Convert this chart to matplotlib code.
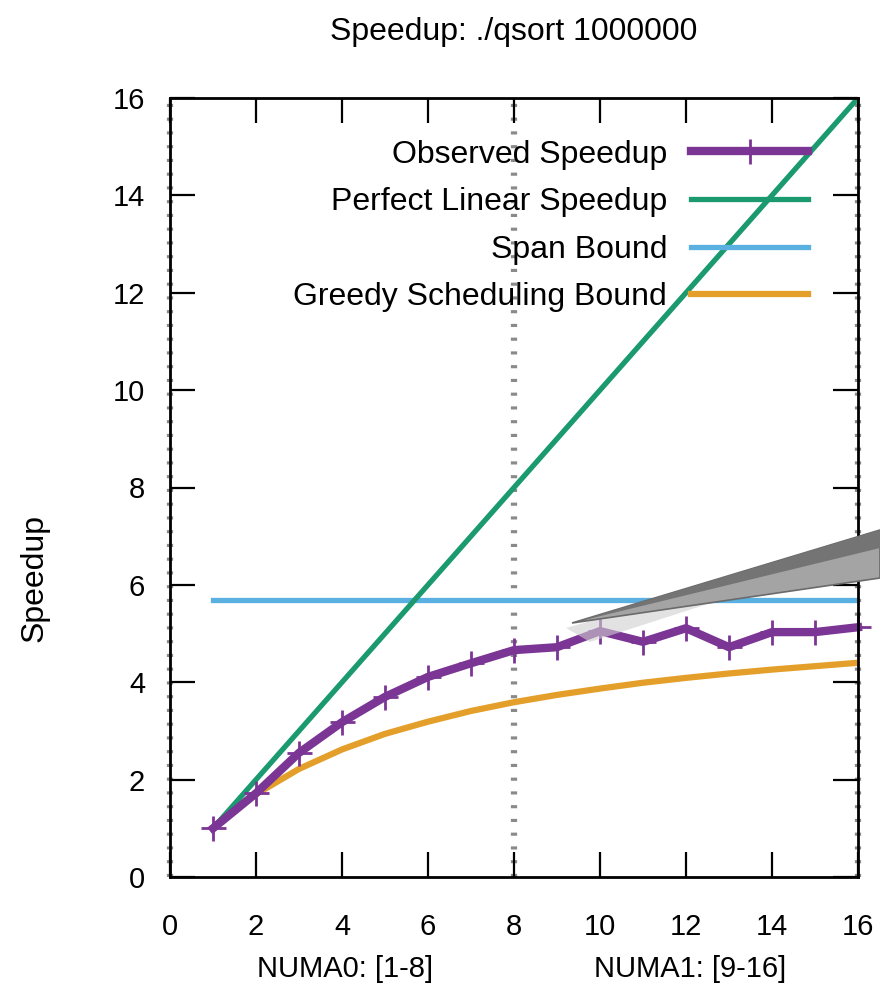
import matplotlib
matplotlib.use('Agg')
import matplotlib.pyplot as plt
from matplotlib.patches import Polygon

plt.rcParams['font.family'] = ['Liberation Sans', 'DejaVu Sans']

# данные
cores = [1, 2, 3, 4, 5, 6, 7, 8, 9, 10, 11, 12, 13, 14, 15, 16]
observed = [1.0, 1.72, 2.55, 3.18, 3.70, 4.11, 4.39, 4.66,
            4.72, 5.05, 4.83, 5.11, 4.72, 5.03, 5.03, 5.13]
linear = [1, 2, 3, 4, 5, 6, 7, 8, 9, 10, 11, 12, 13, 14, 15, 16]
span = [5.69] * 16
greedy = [1.0, 1.70, 2.22, 2.62, 2.94, 3.19, 3.41, 3.59,
          3.74, 3.87, 3.99, 4.09, 4.18, 4.26, 4.33, 4.40]
numa_bounds = [0, 8, 16]
ticks = [0, 2, 4, 6, 8, 10, 12, 14, 16]

W, H = 880, 999
fig = plt.figure(figsize=(8.8, 9.99), dpi=100)
ax = fig.add_axes([170 / W, 1 - 877 / H, 688 / W, 779 / H])

# пунктирные линии границ NUMA
for xb in numa_bounds:
    ax.plot([xb, xb], [0, 16], color='#8a8a8a', lw=4.5, dashes=(0.5, 1.7),
            solid_capstyle='butt', dash_capstyle='butt', zorder=1, clip_on=False)

ax.plot(cores, observed, color='#7b3595', lw=6, marker='+', ms=18, mew=2,
        label='Observed Speedup', zorder=5, clip_on=False)
ax.plot(cores, linear, color='#1a9a6e', lw=3.8, label='Perfect Linear Speedup', zorder=4)
ax.plot(cores, span, color='#5ab0e0', lw=3.8, label='Span Bound', zorder=3)
ax.plot(cores, greedy, color='#e49f2a', lw=4.5, label='Greedy Scheduling Bound', zorder=4)

ax.set_xlim(0, 16)
ax.set_ylim(0, 16)
ax.set_xticks(ticks)
ax.set_yticks(ticks)
ax.tick_params(direction='in', length=18, width=1.6, top=True, right=True,
               labelsize=21, pad=18, colors='black')
ax.tick_params(axis='x', pad=26)
for sp in ax.spines.values():
    sp.set_linewidth(2)
    sp.set_zorder(6)

ax.legend(loc='upper right', bbox_to_anchor=(0.946, 0.963), frameon=False,
          markerfirst=False, fontsize=23, handlelength=3.66, handletextpad=0.75,
          labelspacing=0.55, borderaxespad=0)

fig.text(514 / W, 1 - 32 / H, 'Speedup: ./qsort 1000000', ha='center', va='center', fontsize=23)
fig.text(35 / W, 1 - 578 / H, 'Speedup', rotation=90, ha='center', va='center', fontsize=23)
fig.text(345 / W, 1 - 969 / H, 'NUMA0: [1-8]', ha='center', va='center', fontsize=21)
fig.text(690 / W, 1 - 969 / H, 'NUMA1: [9-16]', ha='center', va='center', fontsize=21)

# серая стрелка-указатель поверх графика
def px(pts):
    return [(x / W, 1 - y / H) for x, y in pts]

shadow = Polygon(px([(566, 628), (700, 590), (720, 600), (590, 642)]),
                 closed=True, transform=fig.transFigure, facecolor='#cfcfcf',
                 edgecolor='none', alpha=0.6, zorder=9)
wedge = Polygon(px([(572, 623), (880, 530), (880, 578)]), closed=True,
                transform=fig.transFigure, facecolor='#a4a4a4',
                edgecolor='#6a6a6a', lw=1.2, zorder=10)
band = Polygon(px([(572, 623), (880, 530), (880, 548)]), closed=True,
               transform=fig.transFigure, facecolor='#747474',
               edgecolor='none', zorder=11)
fig.patches.extend([shadow, wedge, band])

plt.savefig('out.png', dpi=100)
